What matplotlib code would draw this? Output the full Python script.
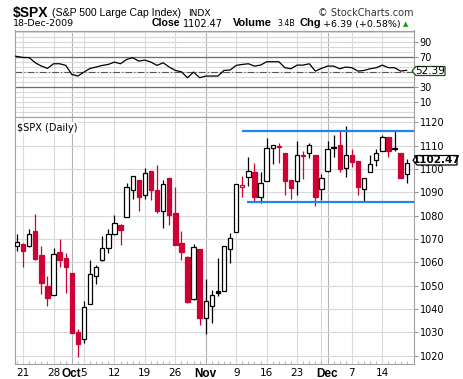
import matplotlib
matplotlib.use("Agg")
import matplotlib.pyplot as plt
from matplotlib.patches import Polygon

# daily OHLC, 18-Sep-2009 .. 18-Dec-2009 (65 sessions)
opens = [1067.0, 1068.0, 1067.0, 1073.5, 1063.3, 1050.0, 1046.0, 1064.3, 1061.8, 1055.5,
         1030.2, 1027.1, 1042.1, 1054.2, 1061.0, 1066.1, 1072.3, 1075.8, 1079.6, 1090.9,
         1095.4, 1088.8, 1099.1, 1090.9, 1081.9, 1096.0, 1081.3, 1068.2, 1062.1, 1044.3,
         1065.8, 1036.1, 1041.2, 1047.8, 1047.7, 1065.5, 1073.1, 1092.2, 1096.6, 1098.6,
         1087.8, 1094.9, 1109.1, 1109.7, 1106.7, 1095.4, 1094.9, 1105.8, 1106.7, 1105.9,
         1091.5, 1099.1, 1108.8, 1110.4, 1100.5, 1105.9, 1103.4, 1091.5, 1098.8, 1103.9,
         1107.9, 1113.8, 1108.6, 1106.7, 1098.0]
highs = [1072.0, 1068.3, 1074.3, 1080.8, 1067.2, 1054.0, 1066.0, 1070.2, 1064.2, 1055.5,
         1031.5, 1043.3, 1061.2, 1059.0, 1071.2, 1074.4, 1080.2, 1076.4, 1093.8, 1096.9,
         1095.4, 1100.5, 1099.1, 1101.7, 1095.4, 1096.0, 1092.3, 1073.3, 1062.7, 1067.8,
         1065.8, 1052.8, 1048.3, 1061.8, 1067.2, 1072.6, 1093.5, 1096.9, 1105.3, 1102.5,
         1098.6, 1113.5, 1110.5, 1111.3, 1106.7, 1095.4, 1112.1, 1107.9, 1111.3, 1105.9,
         1098.0, 1112.1, 1114.7, 1116.9, 1118.6, 1108.4, 1103.4, 1096.3, 1106.2, 1108.4,
         1114.4, 1113.8, 1116.1, 1106.7, 1104.2]
lows = [1064.8, 1058.0, 1066.5, 1061.0, 1046.3, 1041.2, 1046.0, 1058.2, 1046.8, 1029.7,
        1019.5, 1025.6, 1042.0, 1050.5, 1060.7, 1063.8, 1071.8, 1067.4, 1079.3, 1087.0,
        1081.9, 1087.0, 1086.7, 1081.3, 1074.8, 1076.0, 1067.4, 1061.0, 1042.6, 1044.0,
        1033.0, 1029.3, 1034.1, 1045.4, 1047.7, 1059.9, 1073.1, 1087.8, 1092.6, 1085.8,
        1085.6, 1094.7, 1102.2, 1102.5, 1088.7, 1087.3, 1089.0, 1095.7, 1104.8, 1084.1,
        1086.7, 1098.8, 1105.3, 1098.8, 1096.6, 1100.8, 1089.0, 1086.1, 1098.6, 1101.4,
        1107.9, 1105.3, 1107.9, 1096.0, 1094.0]
closes = [1068.6, 1065.0, 1072.0, 1061.3, 1051.2, 1044.6, 1063.6, 1061.2, 1057.9, 1029.9,
          1025.0, 1040.8, 1055.2, 1058.0, 1066.2, 1072.2, 1077.0, 1074.0, 1092.5, 1096.8,
          1088.1, 1098.3, 1091.2, 1081.9, 1093.4, 1080.2, 1067.6, 1064.4, 1042.9, 1066.6,
          1036.1, 1043.5, 1046.0, 1046.9, 1067.2, 1070.3, 1093.4, 1093.3, 1099.1, 1087.8,
          1093.8, 1109.0, 1110.3, 1109.4, 1094.9, 1091.8, 1106.2, 1105.4, 1110.3, 1088.0,
          1096.0, 1108.7, 1109.3, 1100.0, 1106.2, 1103.1, 1092.1, 1096.3, 1102.2, 1106.7,
          1113.8, 1107.9, 1109.2, 1096.08, 1102.47]
rsi = [71.3, 69.5, 69.3, 62.4, 58.0, 54.9, 61.1, 61.1, 58.9, 46.9,
       44.7, 50.0, 54.9, 56.7, 58.9, 60.2, 63.3, 61.1, 66.9, 69.1,
       64.7, 66.0, 63.3, 58.9, 62.4, 56.7, 52.2, 50.4, 42.4, 50.0,
       42.4, 44.7, 44.7, 44.7, 52.2, 52.7, 58.9, 60.2, 61.1, 58.0,
       59.3, 63.8, 63.8, 63.8, 55.8, 54.4, 59.3, 59.3, 61.1, 51.3,
       54.9, 58.0, 58.0, 54.4, 56.7, 55.8, 51.3, 52.2, 54.4, 55.8,
       59.3, 55.8, 55.8, 51.3, 52.39]

# x labels: session index -> text
week_idx = [1, 6, 11, 16, 21, 26, 31, 36, 41, 46, 50, 55, 60]
month_idx = [9, 31, 51]
xlabels = {1: "21", 6: "28", 9: "Oct", 11: "5", 16: "12", 21: "19", 26: "26",
           31: "Nov", 36: "9", 41: "16", 46: "23", 51: "Dec", 55: "7", 60: "14"}

# channel lines drawn on the chart
chan_top, chan_top_start = 1116.2, 36.9
chan_bot, chan_bot_start = 1086.0, 37.8

W, H = 463, 379
RED = "#cf0033"
BLUE = "#1e86ef"
GRID = "#d9d9d9"

fig = plt.figure(figsize=(W / 100, H / 100), dpi=100)


def fpos(x0, y0, x1, y1):
    return [x0 / W, 1 - y1 / H, (x1 - x0) / W, (y1 - y0) / H]


ax_r = fig.add_axes(fpos(15, 30.5, 414, 117))
ax = fig.add_axes(fpos(15, 117, 414, 364))

xmin, xmax = -0.33, 65.2
n = len(closes)

for a in (ax, ax_r):
    a.set_xlim(xmin, xmax)
    for s in a.spines.values():
        s.set_color("#a0a0a0")
        s.set_linewidth(0.8)
    for i in week_idx:
        a.axvline(i, color=GRID, lw=0.8, zorder=0)
    for i in month_idx:
        a.axvline(i, color="#b4b4b4", lw=0.8, zorder=0)
    a.yaxis.tick_right()
    a.tick_params(axis="y", labelsize=7, length=3, width=0.6, color="#808080", pad=1)

# ---- RSI panel
ax_r.set_ylim(-10, 105.5)
k = -10.0
while k < 105:
    ax_r.axhline(k, color=GRID, lw=0.8, zorder=0)
    k += 20 / 3
ax_r.axhline(70, color="#6e6e6e", lw=0.9, zorder=1)
ax_r.axhline(30, color="#6e6e6e", lw=0.9, zorder=1)
ax_r.axhline(50, color="#555555", lw=0.8, ls=(0, (6, 2, 1, 2)), zorder=1)
ax_r.plot([xmin] + list(range(1, n)), [rsi[0]] + rsi[1:], color="black", lw=0.9, zorder=3)
ax_r.set_yticks([10, 30, 70, 90])
ax_r.set_xticks([])

# ---- price panel
ax.set_ylim(1016.4, 1122.3)
for v in range(1020, 1121, 10):
    ax.axhline(v, color=GRID, lw=0.8, zorder=0)
ax.set_yticks(range(1020, 1121, 10))

for i in range(n):
    o, h, l, c = opens[i], highs[i], lows[i], closes[i]
    col = "black" if i == 0 or c >= closes[i - 1] else RED
    face = col if c < o else "white"
    ax.vlines(i, l, h, color=col, lw=0.9, zorder=2)
    ax.bar(i, max(abs(c - o), 0.15), bottom=min(o, c), width=0.72,
           color=face, edgecolor=col, linewidth=0.9, zorder=3)

ax.plot([chan_top_start, xmax], [chan_top, chan_top], color=BLUE, lw=1.6, zorder=4,
        solid_capstyle="butt", clip_on=False)
ax.plot([chan_bot_start, xmax], [chan_bot, chan_bot], color=BLUE, lw=1.6, zorder=4,
        solid_capstyle="butt", clip_on=False)

ax.set_xticks(list(xlabels.keys()))
ax.set_xticklabels(list(xlabels.values()))
ax.set_xticks(range(n), minor=True)
ax.tick_params(axis="x", which="major", labelsize=7.5, length=0, pad=3)
ax.tick_params(axis="x", which="minor", length=2, width=0.5, color="#999999", direction="in")
for t in ax.get_xticklabels():
    if t.get_text() in ("Oct", "Nov", "Dec"):
        t.set_fontweight("bold")
        t.set_fontfamily("Liberation Sans")
        t.set_fontsize(8.5)

ax.text(0.005, 0.975, "$SPX (Daily)", transform=ax.transAxes, fontsize=7, va="top",
        ha="left", bbox=dict(facecolor="white", edgecolor="none", pad=0.5), zorder=5)


# ---- value tags at the right
def tag(x0, x1, y0, y1, text, edge, weight):
    ym = (y0 + y1) / 2
    pts = [(x0, ym), (x0 + 4, y0), (x1, y0), (x1, y1), (x0 + 4, y1)]
    pts = [(x / W, 1 - y / H) for x, y in pts]
    fig.patches.append(Polygon(pts, closed=True, transform=fig.transFigure,
                               facecolor="white", edgecolor=edge, lw=0.9))
    fig.text((x0 + 4 + x1) / 2 / W, 1 - ym / H, text, ha="center", va="center",
             fontsize=7.5, fontweight=weight)


tag(413, 457, 155.5, 165, "%.2f" % closes[-1], "black", "bold")
tag(412, 445, 66.5, 75.5, "%.2f" % rsi[-1], "#1a4d1a", "normal")


# ---- header
def ftext(x, y, s, **kw):
    fig.text(x / W, 1 - y / H, s, va="center", ha="left", **kw)


ftext(13, 12.5, "$SPX", fontsize=10, fontweight="bold", family="Liberation Sans")
ftext(52, 13, "(S&P 500 Large Cap Index)", fontsize=7.6, family="Liberation Sans")
ftext(188, 13, "INDX", fontsize=6.6)
ftext(318, 13, "\u00a9 StockCharts.com", fontsize=7, color="#333333")
ftext(13, 24, "18-Dec-2009", fontsize=6.8)
ftext(152, 23.5, "Close", fontsize=7.6, fontweight="bold", family="Liberation Sans")
ftext(183, 24, "1102.47", fontsize=7)
ftext(233, 23.5, "Volume", fontsize=7.9, fontweight="bold", family="Liberation Sans")
ftext(277, 24, "3.4B", fontsize=5.6)
ftext(299, 23.5, "Chg", fontsize=7.9, fontweight="bold", family="Liberation Sans")
ftext(323, 24, "+6.39 (+0.58%)", fontsize=6.8)
ftext(403, 24, "\u25b2", fontsize=5, color="#119911")

fig.savefig("out.png", dpi=100)
